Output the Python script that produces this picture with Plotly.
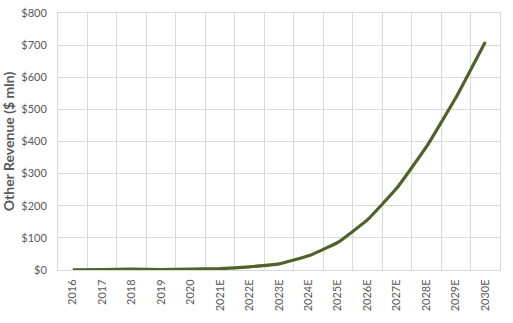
import plotly.graph_objects as go

years = ["2016", "2017", "2018", "2019", "2020", "2021E", "2022E", "2023E",
         "2024E", "2025E", "2026E", "2027E", "2028E", "2029E", "2030E"]
other_revenue = [0.5, 1, 3, 1, 3, 4, 10, 19, 44, 86, 156, 255, 383, 536, 710]
y_ticks = [0, 100, 200, 300, 400, 500, 600, 700, 800]
y_tick_labels = ["$" + str(v) for v in y_ticks]

x_pos = list(range(len(years)))
boundaries = [i - 0.5 for i in range(len(years) + 1)]

fig = go.Figure(go.Scatter(
    x=x_pos, y=other_revenue, mode="lines",
    line=dict(color="#4F6228", width=3.2, shape="spline", smoothing=0.3),
    text=years, hovertemplate="%{text}: $%{y}<extra></extra>",
))

fig.update_layout(
    width=513, height=323,
    margin=dict(l=58, r=13, t=13, b=53, autoexpand=False),
    paper_bgcolor="white", plot_bgcolor="white",
    showlegend=False,
    font=dict(family="Lato, Liberation Sans, sans-serif", color="#595959", size=11),
)
fig.update_xaxes(
    range=[-0.5, len(years) - 0.5], automargin=False,
    tickvals=x_pos, ticktext=years, showgrid=False, zeroline=False,
    minor=dict(tickvals=boundaries, showgrid=True, gridcolor="#D9D9D9", gridwidth=1, ticks=""),
    tickangle=-90, ticks="outside", ticklen=4, tickcolor="rgba(0,0,0,0)",
    showline=True, linecolor="#D9D9D9", mirror=True,
    tickfont=dict(size=11, color="#595959"),
)
fig.update_yaxes(
    range=[0, 800], tickvals=y_ticks, ticktext=y_tick_labels, automargin=False,
    showgrid=True, gridcolor="#D9D9D9", gridwidth=1, zeroline=False,
    showline=True, linecolor="#D9D9D9", mirror=True,
    ticks="outside", ticklen=8, tickcolor="rgba(0,0,0,0)",
    tickfont=dict(size=11, color="#595959"),
    title=dict(text="<b>Other Revenue ($ mln)</b>", font=dict(size=14, color="#595959"), standoff=8),
)

fig.write_html(
    "out.html",
    config={"displayModeBar": False},
    post_script="document.body.style.margin='0px';document.body.style.overflow='hidden';",
)
